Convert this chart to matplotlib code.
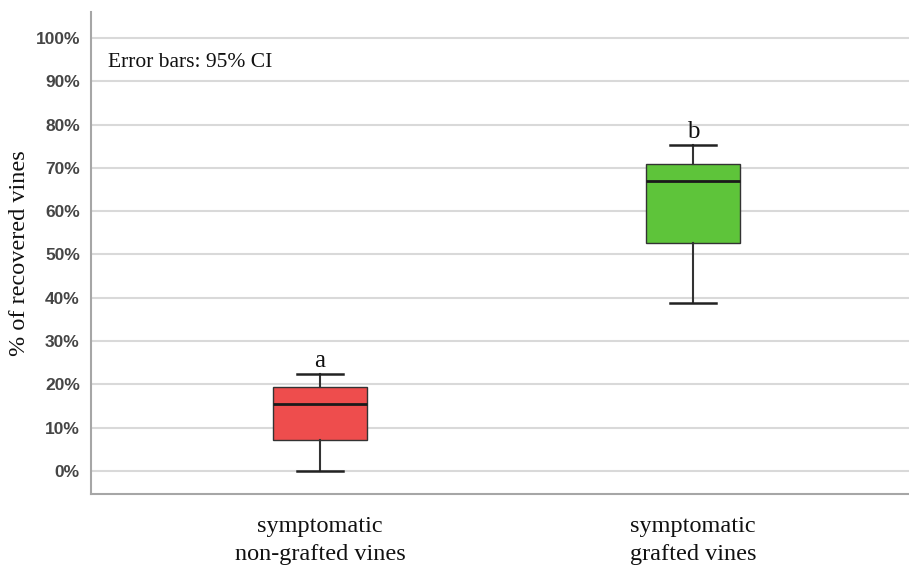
import matplotlib
matplotlib.use("Agg")
import matplotlib.pyplot as plt
from matplotlib.ticker import FuncFormatter

# Summary statistics (% of recovered vines)
groups = ["symptomatic\nnon-grafted vines", "symptomatic\ngrafted vines"]
whisker_low = [0.0, 38.7]
q1 = [7.2, 52.7]
median = [15.5, 67.0]
q3 = [19.5, 71.0]
whisker_high = [22.3, 75.3]
letters = ["a", "b"]
box_colors = ["#EE4D4D", "#5EC43A"]

fig = plt.figure(figsize=(9.09, 5.65), dpi=100)
ax = fig.add_axes([0.1001, 0.1257, 0.8999, 0.8531])

stats = []
for i in range(len(groups)):
    stats.append(dict(whislo=whisker_low[i], q1=q1[i], med=median[i],
                      q3=q3[i], whishi=whisker_high[i], fliers=[]))

bp = ax.bxp(stats, positions=range(len(groups)), widths=0.25,
            patch_artist=True, showfliers=False,
            boxprops=dict(edgecolor="#333333", linewidth=1.0),
            medianprops=dict(color="#1a1a1a", linewidth=2.0),
            whiskerprops=dict(color="#333333", linewidth=1.5),
            capprops=dict(color="#222222", linewidth=1.8),
            capwidths=0.125)
for patch, c in zip(bp["boxes"], box_colors):
    patch.set_facecolor(c)
    patch.set_zorder(3)
for key in ("medians", "whiskers", "caps"):
    for ln in bp[key]:
        ln.set_zorder(4)

for i, lt in enumerate(letters):
    ax.text(i, whisker_high[i] + 0.5, lt, ha="center", va="bottom",
            family="Liberation Serif", fontsize=18, color="#111111")

ax.set_xlim(-0.614, 1.579)
ax.set_ylim(-5.3, 106.0)
ax.set_yticks(range(0, 101, 10))
ax.yaxis.set_major_formatter(FuncFormatter(lambda v, p: f"{int(v)}%"))
ax.set_xticks(range(len(groups)))
ax.set_xticklabels(groups, family="Liberation Serif", fontsize=17.5,
                   color="#111111", linespacing=1.4)
for lab in ax.get_yticklabels():
    lab.set_family("Liberation Sans")
    lab.set_fontweight("bold")
    lab.set_fontsize(12.5)
    lab.set_color("#454545")
ax.tick_params(axis="both", length=0)
ax.tick_params(axis="y", pad=8)
ax.tick_params(axis="x", pad=16)

ax.yaxis.grid(True, color="#D9D9D9", linewidth=1.5, zorder=0)
ax.set_axisbelow(True)
for side in ("top", "right"):
    ax.spines[side].set_visible(False)
for side in ("left", "bottom"):
    ax.spines[side].set_color("#A6A6A6")
    ax.spines[side].set_linewidth(1.5)

ax.set_ylabel("% of recovered vines", family="Liberation Serif",
              fontsize=17.5, color="#111111", labelpad=4)

ax.text(0.021, 0.915, "Error bars: 95% CI", transform=ax.transAxes,
        family="Liberation Serif", fontsize=15.5, color="#111111",
        ha="left", va="top")

fig.savefig("out.png", dpi=100)
